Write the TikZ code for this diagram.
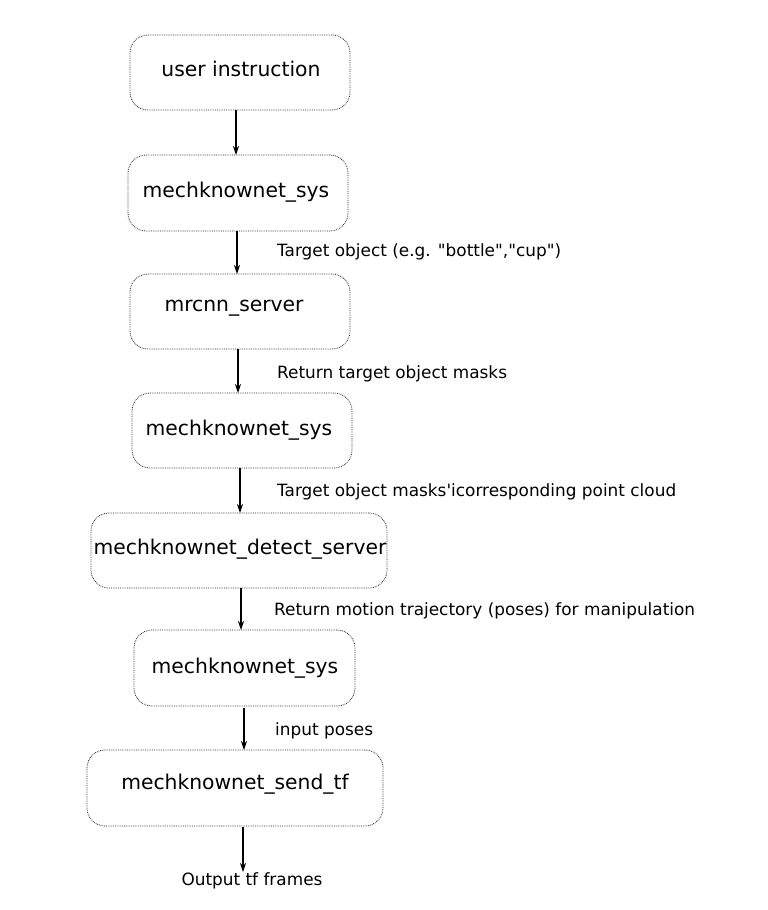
\documentclass[tikz,border=0pt]{standalone}
\usepackage{fontspec}
\newfontfamily\dv{DejaVu Sans}
\usetikzlibrary{arrows.meta}
\begin{document}
\begin{tikzpicture}[x=1bp,y=-1bp,
  box/.style={draw=black!85, densely dotted, line width=0.8bp, rounded corners=18bp},
  boxtxt/.style={font=\dv\fontsize{20.3bp}{24bp}\selectfont, inner sep=0},
  lbl/.style={font=\dv\fontsize{16.9bp}{20bp}\selectfont, anchor=west, inner sep=0},
  arr/.style={-{Stealth[length=9bp,width=6bp]}, line width=1.2bp}]
\useasboundingbox (0,0) rectangle (768,910);
\node[box, minimum width=220bp, minimum height=75bp] (b1) at (240,72.5) {};
\node[boxtxt] at (241,69) {user instruction};
\node[box, minimum width=220bp, minimum height=76bp] (b2) at (238,193) {};
\node[boxtxt] at (236,192) {mechknownet\_sys};
\node[box, minimum width=220bp, minimum height=75bp] (b3) at (240,311.5) {};
\node[boxtxt] at (234,308) {mrcnn\_server};
\node[box, minimum width=220bp, minimum height=75bp] (b4) at (242,430.5) {};
\node[boxtxt] at (239,430) {mechknownet\_sys};
\node[box, minimum width=296bp, minimum height=75bp] (b5) at (239,550.5) {};
\node[boxtxt] at (240,549) {mechknownet\_detect\_server};
\node[box, minimum width=221bp, minimum height=76bp] (b6) at (244.5,668) {};
\node[boxtxt] at (245,668) {mechknownet\_sys};
\node[box, minimum width=296bp, minimum height=76bp] (b7) at (235,788) {};
\node[boxtxt] at (235,784) {mechknownet\_send\_tf};
\node[lbl] (l1) at (277,252) {Target object (e.g. "bottle","cup")};
\node[lbl] (l2) at (277,374) {Return target object masks};
\node[lbl] (l3) at (277,492) {Target object masks'icorresponding point cloud};
\node[lbl] (l4) at (274,611) {Return motion trajectory (poses) for manipulation};
\node[lbl] (l5) at (275,731) {input poses};
\node[font=\dv\fontsize{16.9bp}{20bp}\selectfont, inner sep=0] (out) at (252,881) {Output tf frames};
\coordinate (o) at (243,872);
\draw[arr] (236,110) -- (236,155);
\draw[arr] (237,231) -- (237,274);
\draw[arr] (238,349) -- (238,393);
\draw[arr] (240,468) -- (240,513);
\draw[arr] (241,588) -- (241,630);
\draw[arr] (244,708) -- (244,750);
\draw[arr] (243,827) -- (o);
\end{tikzpicture}
\end{document}
